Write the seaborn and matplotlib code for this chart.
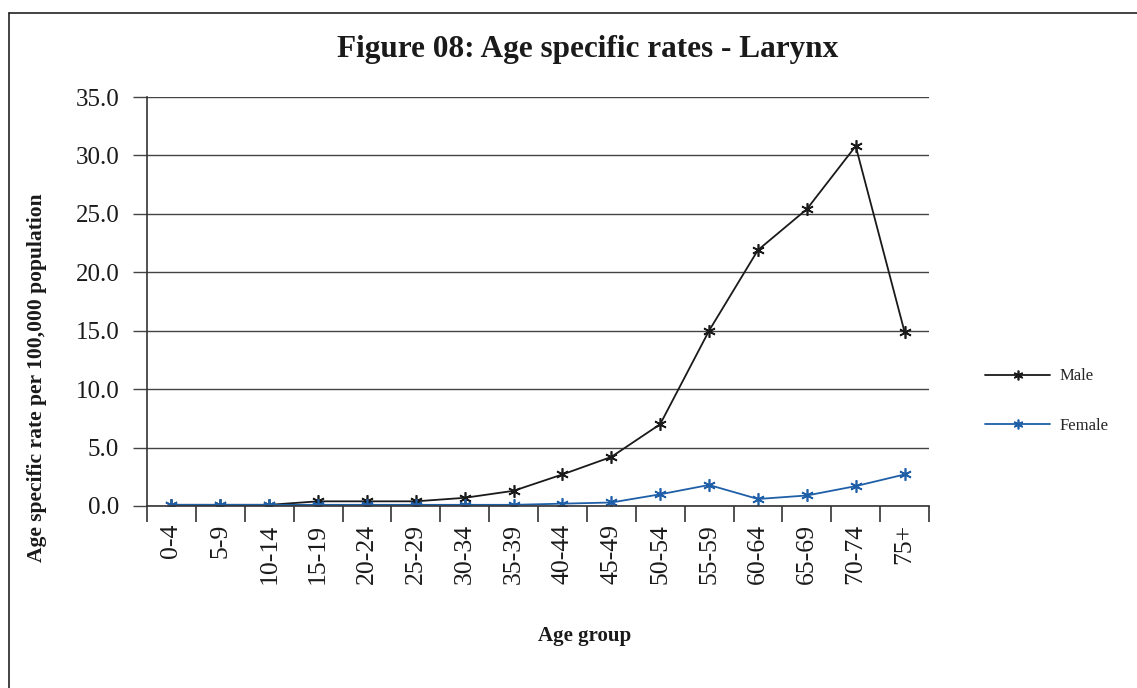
import numpy as np
import pandas as pd
import matplotlib
matplotlib.use("Agg")
import matplotlib.pyplot as plt
import seaborn as sns
from matplotlib.ticker import FixedLocator, FormatStrFormatter
from matplotlib.lines import Line2D

age_groups = ["0-4", "5-9", "10-14", "15-19", "20-24", "25-29", "30-34", "35-39",
              "40-44", "45-49", "50-54", "55-59", "60-64", "65-69", "70-74", "75+"]
male = [0.1, 0.1, 0.1, 0.4, 0.4, 0.4, 0.7, 1.3, 2.7, 4.2, 7.0, 15.0, 21.9, 25.4, 30.8, 14.9]
female = [0.1, 0.1, 0.1, 0.1, 0.1, 0.1, 0.1, 0.1, 0.2, 0.3, 1.0, 1.8, 0.6, 0.9, 1.7, 2.7]
series_names = ["Male", "Female"]
y_ticks = [0, 5, 10, 15, 20, 25, 30, 35]

sns.set_style("white")
plt.rcParams["font.family"] = ["Liberation Serif", "DejaVu Serif"]

df = pd.DataFrame({
    "Age group": age_groups * 2,
    "pos": list(range(len(age_groups))) * 2,
    "Rate": male + female,
    "Sex": [series_names[0]] * len(male) + [series_names[1]] * len(female),
})

fig = plt.figure(figsize=(11.37, 6.88), dpi=100)
ax = fig.add_axes([147 / 1137, 1 - 506 / 688, (929 - 147) / 1137, (506 - 97) / 688])

palette = {"Male": "#1a1a1a", "Female": "#1f5fa8"}
sns.lineplot(data=df, x="pos", y="Rate", hue="Sex", palette=palette, ax=ax,
             marker=(6, 2, 0), markersize=9, markeredgewidth=1.2, linewidth=1.3,
             legend=False)
for ln in ax.lines:
    ln.set_markeredgecolor(ln.get_color())
    ln.set_markerfacecolor(ln.get_color())

ax.set_xlim(-0.5, len(age_groups) - 0.5)
ax.set_ylim(0, 35)
ax.set_yticks(y_ticks)
ax.yaxis.set_major_formatter(FormatStrFormatter("%.1f"))
ax.yaxis.grid(True, color="#444444", linewidth=1.0)
ax.set_axisbelow(True)

ax.set_xticks(range(len(age_groups)))
ax.set_xticklabels(age_groups, rotation=90)
ax.xaxis.set_minor_locator(FixedLocator(np.arange(-0.5, len(age_groups), 1.0)))
ax.tick_params(axis="x", which="major", length=0, pad=13, labelsize=18.5, colors="#1a1a1a")
ax.tick_params(axis="x", which="minor", length=11.5, width=1.2, color="#333333", direction="out", bottom=True)
ax.tick_params(axis="y", which="major", length=10, width=1.0, color="#444444", direction="out",
               left=True, labelsize=18, labelcolor="#1a1a1a", pad=10)

for s in ["top", "right"]:
    ax.spines[s].set_visible(False)
for s in ["left", "bottom"]:
    ax.spines[s].set_color("#333333")
    ax.spines[s].set_linewidth(1.2)

ax.set_xlabel("Age group", fontsize=15, fontweight="bold", color="#1a1a1a")
ax.xaxis.set_label_coords((585 - 147) / 782, (506 - 636) / 409)
ax.xaxis.label.set_va("center")
ax.set_ylabel("Age specific rate per 100,000 population", fontsize=15.5, fontweight="bold",
              color="#1a1a1a")
ax.yaxis.set_label_coords((37 - 147) / 782, (506 - 378) / 409)
ax.yaxis.label.set_va("center")
fig.text(588 / 1137, 1 - 50 / 688, "Figure 08: Age specific rates - Larynx", ha="center",
         va="center", fontsize=22.5, fontweight="bold", color="#1a1a1a")

handles = [Line2D([], [], color=palette[n], marker=(6, 2, 0), markersize=7, markeredgewidth=1.2,
                  linewidth=1.3) for n in series_names]
fig.legend(handles, series_names, loc="center left", bbox_to_anchor=(970 / 1137, 1 - 401 / 688),
           frameon=False, fontsize=12, handlelength=3.9, labelspacing=2.0, handletextpad=0.6)

# figure border (left and top edges visible)
fig.add_artist(Line2D([9 / 1137, 9 / 1137], [0, 1 - 13 / 688], transform=fig.transFigure,
                      color="#222222", linewidth=1.2))
fig.add_artist(Line2D([9 / 1137, 1], [1 - 13 / 688, 1 - 13 / 688], transform=fig.transFigure,
                      color="#222222", linewidth=1.2))

fig.savefig("out.png", dpi=100)
